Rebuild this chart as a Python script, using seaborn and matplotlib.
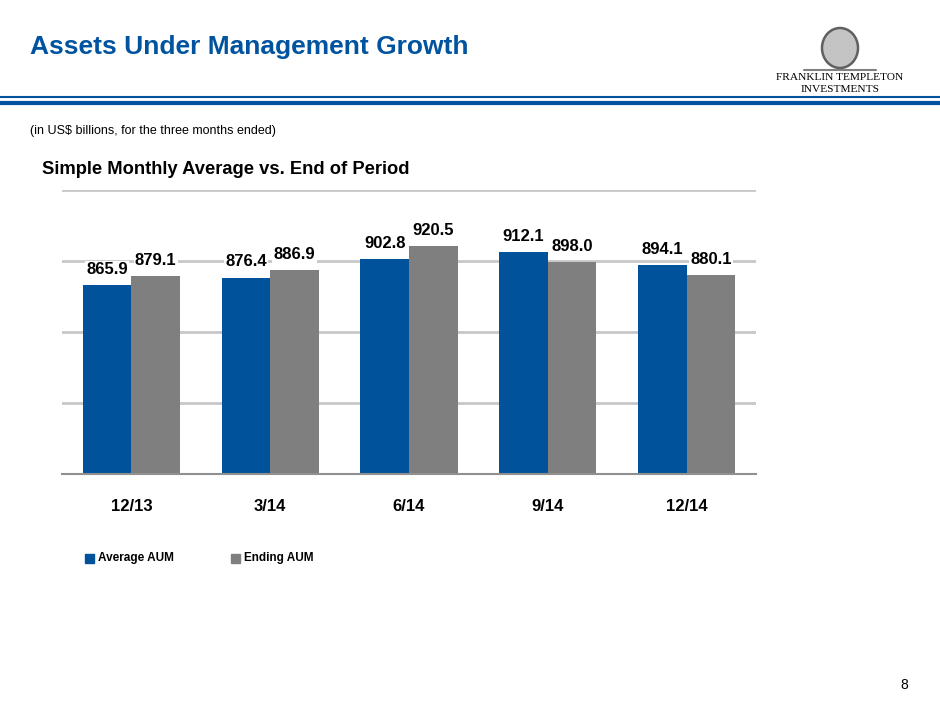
import matplotlib
matplotlib.use('Agg')
import matplotlib.pyplot as plt
from matplotlib.patches import Ellipse
import pandas as pd
import seaborn as sns

periods = ['12/13', '3/14', '6/14', '9/14', '12/14']
average_aum = [865.9, 876.4, 902.8, 912.1, 894.1]
ending_aum = [879.1, 886.9, 920.5, 898.0, 880.1]
series_names = ['Average AUM', 'Ending AUM']

blue = '#00529B'
grey = '#7F7F7F'

df = pd.DataFrame({
    'period': periods * 2,
    'series': [series_names[0]] * len(periods) + [series_names[1]] * len(periods),
    'aum': average_aum + ending_aum,
})

sns.set_theme(style='white', rc={'text.color': 'black', 'xtick.color': 'black'})
plt.rcParams['font.family'] = ['Liberation Sans Narrow', 'Liberation Sans', 'DejaVu Sans']

fig = plt.figure(figsize=(9.4, 7.05), dpi=100)
ax = fig.add_axes([62 / 940, 1 - 474 / 705, 694 / 940, 284 / 705])

sns.barplot(data=df, x='period', y='aum', hue='series', order=periods,
            hue_order=series_names, palette=[blue, grey], width=0.7,
            saturation=1, linewidth=0, ax=ax, legend=False)

ax.set_ylim(600, 1000)
ax.set_xlim(-0.5, len(periods) - 0.5)
ax.set_yticks([700, 800, 900, 1000])
ax.yaxis.grid(True, color='#C8C8C8', linewidth=2)
ax.set_axisbelow(True)
ax.tick_params(axis='y', left=False, labelleft=False)
ax.tick_params(axis='x', bottom=False, pad=12)
for lbl in ax.get_xticklabels():
    lbl.set_fontsize(12)
    lbl.set_fontweight('bold')
ax.set_xlabel('')
ax.set_ylabel('')
for side in ['left', 'right', 'top']:
    ax.spines[side].set_visible(False)
ax.spines['bottom'].set_color('#909090')
ax.spines['bottom'].set_linewidth(1.5)

for cont in ax.containers:
    labels = ax.bar_label(cont, fmt='%.1f', padding=6, fontsize=12, fontweight='bold')
    for t in labels:
        t.set_bbox(dict(facecolor='white', edgecolor='none', pad=1))

# legend drawn by hand as small squares
for i, name in enumerate(series_names):
    x0 = 85 / 940 + i * 146 / 940
    fig.patches.append(plt.Rectangle((x0, 1 - 563 / 705), 9 / 940, 9 / 705,
                                     transform=fig.transFigure,
                                     color=[blue, grey][i]))
    fig.text(x0 + 13 / 940, 1 - 558 / 705, name, fontsize=8.5, fontweight='bold',
             va='center', ha='left')

# header
fig.text(30 / 940, 1 - 47 / 705, 'Assets Under Management Growth', fontsize=19,
         fontweight='bold', color='#00539F', va='center', ha='left')
fig.add_artist(plt.Line2D([0, 1], [1 - 97 / 705] * 2, color='#00539F', linewidth=1.5,
                          transform=fig.transFigure))
fig.add_artist(plt.Line2D([0, 1], [1 - 103 / 705] * 2, color='#00539F', linewidth=3,
                          transform=fig.transFigure))

# logo (simplified portrait oval + wordmark)
fig.patches.append(Ellipse((840 / 940, 1 - 48 / 705), 36 / 940, 40 / 705,
                           transform=fig.transFigure, facecolor='#C4C4C4',
                           edgecolor='#606060', linewidth=1.8))
fig.add_artist(plt.Line2D([804 / 940, 876 / 940], [1 - 70 / 705] * 2, color='#808080',
                          linewidth=1.5, transform=fig.transFigure))
fig.text(840 / 940, 1 - 78 / 705, 'FRANKLIN TEMPLETON', fontsize=8.2,
         family='Liberation Serif', va='center', ha='center')
fig.text(840 / 940, 1 - 90 / 705, 'INVESTMENTS', fontsize=8.2,
         family='Liberation Serif', va='center', ha='center')

fig.text(30 / 940, 1 - 131 / 705, '(in US$ billions, for the three months ended)',
         fontsize=9, family=['Liberation Sans', 'DejaVu Sans'], va='center', ha='left')
fig.text(42 / 940, 1 - 170 / 705, 'Simple Monthly Average vs. End of Period',
         fontsize=13.2, fontweight='bold', family=['Liberation Sans', 'DejaVu Sans'],
         va='center', ha='left')
fig.text(904 / 940, 1 - 685 / 705, '8', fontsize=10,
         family=['Liberation Sans', 'DejaVu Sans'], va='center', ha='center')

fig.savefig('out.png', dpi=100, facecolor='white')
